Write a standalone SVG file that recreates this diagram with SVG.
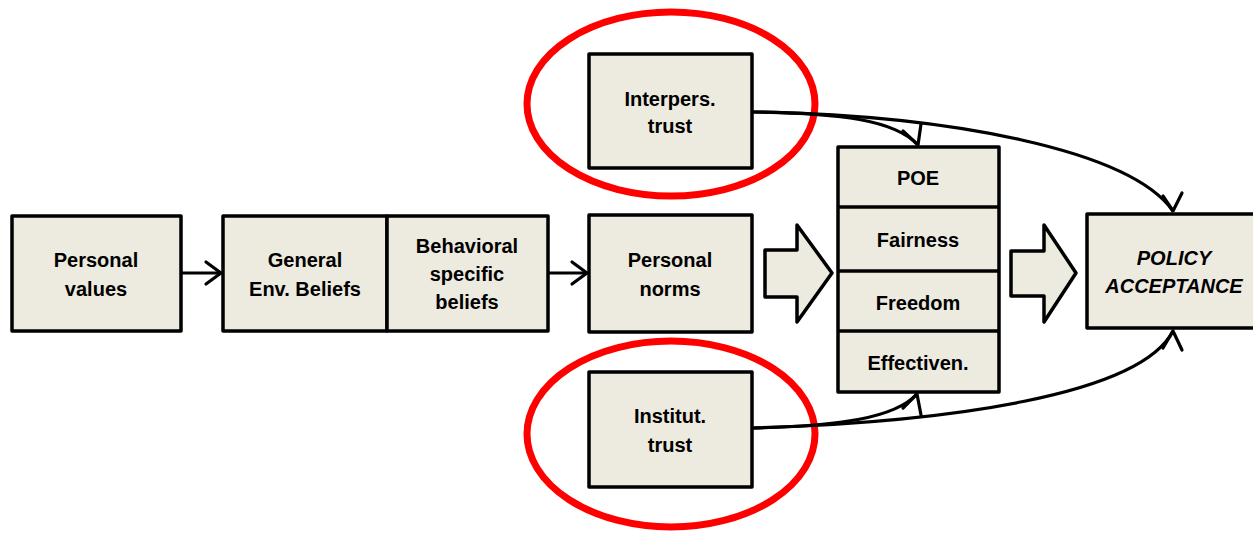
<svg xmlns="http://www.w3.org/2000/svg" width="1253" height="533" viewBox="0 0 1253 533">
<style>
.box{fill:#EDEADF;stroke:#000;stroke-width:3.5;stroke-linejoin:round}
.t{font-family:"Liberation Sans",Arial,sans-serif;font-weight:bold;font-size:20px;fill:#000;text-anchor:middle}
.it{font-style:italic}
.ring{fill:none;stroke:#FF0000;stroke-width:7}
.c{fill:none;stroke:#000;stroke-width:3.2}
.ah{fill:none;stroke:#000;stroke-width:3.2;stroke-linecap:round;stroke-linejoin:round}
</style>
<rect width="1253" height="533" fill="#fff"/>
<g id="personal-values"><rect class="box" x="12" y="216" width="169" height="115"/><text class="t" x="96" y="267">Personal</text><text class="t" x="96" y="296">values</text></g>
<g id="general-beliefs"><rect class="box" x="223" y="216" width="164" height="115"/><text class="t" x="305" y="267">General</text><text class="t" x="305" y="296">Env. Beliefs</text></g>
<g id="behavioral-beliefs"><rect class="box" x="387" y="216" width="161" height="115"/><text class="t" x="467" y="253">Behavioral</text><text class="t" x="467" y="281">specific</text><text class="t" x="467" y="309">beliefs</text></g>
<g id="personal-norms"><rect class="box" x="589" y="215" width="163" height="117"/><text class="t" x="670" y="267">Personal</text><text class="t" x="670" y="296">norms</text></g>
<g id="interpers-trust"><ellipse class="ring" cx="671" cy="104" rx="144" ry="92"/><rect class="box" x="589" y="54" width="163" height="114"/><text class="t" x="670" y="106">Interpers.</text><text class="t" x="670" y="133">trust</text></g>
<g id="institut-trust"><ellipse class="ring" cx="671" cy="434" rx="144" ry="93"/><rect class="box" x="589" y="372" width="163" height="115"/><text class="t" x="670" y="423">Institut.</text><text class="t" x="670" y="452">trust</text></g>
<g id="block-arrow-1"><polygon class="box" points="765,250 797,250 797,225 832,273 797,322 797,297 765,297"/></g>
<g id="perceptions"><rect class="box" x="838" y="147" width="161" height="245"/><line x1="838" y1="207" x2="999" y2="207" stroke="#000" stroke-width="3.5"/><line x1="838" y1="271" x2="999" y2="271" stroke="#000" stroke-width="3.5"/><line x1="838" y1="331" x2="999" y2="331" stroke="#000" stroke-width="3.5"/><text class="t" x="918" y="185">POE</text><text class="t" x="918" y="247">Fairness</text><text class="t" x="918" y="310">Freedom</text><text class="t" x="918" y="370">Effectiven.</text></g>
<g id="block-arrow-2"><polygon class="box" points="1011,251 1044,251 1044,225 1076,273 1044,322 1044,296 1011,296"/></g>
<g id="policy-acceptance"><rect class="box" x="1087" y="214" width="180" height="114"/><text class="t it" x="1174" y="265">POLICY</text><text class="t it" x="1174" y="293">ACCEPTANCE</text></g>
<g id="connectors">
<line class="c" x1="181" y1="273" x2="220" y2="273"/><polyline class="ah" points="206,262 221,273 206,284"/>
<line class="c" x1="548" y1="273" x2="586" y2="273"/><polyline class="ah" points="572,262 587,273 572,284"/>
<path class="c" d="M752,112 C840,113 895,120 918,145"/><polyline class="ah" points="903,131 918,145 921,124"/>
<path class="c" d="M752,112 C950,115 1130,150 1173,211"/><polyline class="ah" points="1163,196 1173,211 1182,193"/>
<path class="c" d="M752,428 C840,426 895,418 917,394"/><polyline class="ah" points="903,408 917,394 921,415"/>
<path class="c" d="M752,428 C950,422 1140,395 1173,331"/><polyline class="ah" points="1163,348 1173,331 1182,350"/>
</g>
</svg>
